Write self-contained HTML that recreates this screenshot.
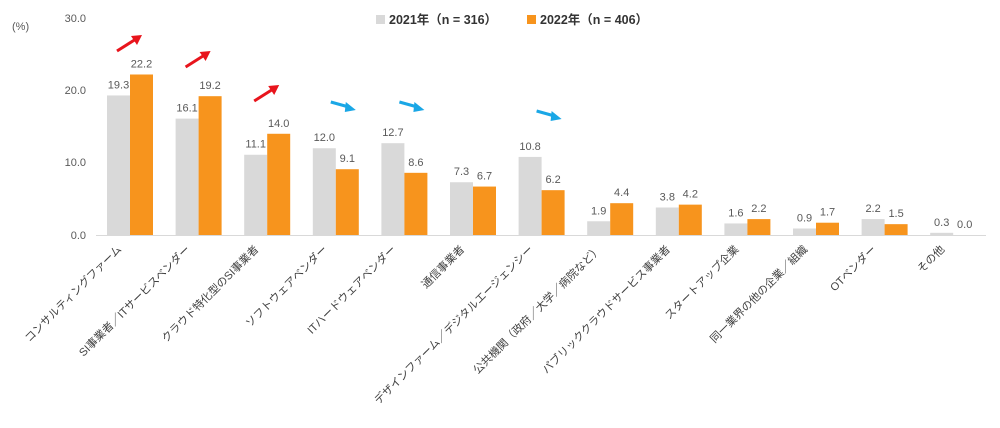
<!DOCTYPE html>
<html><head><meta charset="utf-8"><style>
body{margin:0;background:#fff}
svg text{font-family:"Liberation Sans","Noto Sans CJK JP",sans-serif}
</style></head><body>
<svg width="1000" height="423" viewBox="0 0 1000 423" xmlns="http://www.w3.org/2000/svg">
<g font-size="11" fill="#595959">
<text x="12" y="30">(%)</text>
<text x="86" y="22" text-anchor="end">30.0</text>
<text x="86" y="94" text-anchor="end">20.0</text>
<text x="86" y="166" text-anchor="end">10.0</text>
<text x="86" y="239" text-anchor="end">0.0</text>
</g>
<line x1="96" y1="235.5" x2="986" y2="235.5" stroke="#d9d9d9" stroke-width="1"/>
<rect x="376" y="15" width="9" height="9" fill="#d9d9d9"/>
<text x="389" y="24" font-size="12.5" font-weight="bold" fill="#333">2021年（n = 316）</text>
<rect x="527" y="15" width="9" height="9" fill="#f7941d"/>
<text x="540" y="24" font-size="12.5" font-weight="bold" fill="#333">2022年（n = 406）</text>
<g id="bars"></g>
</svg>
<script>
var d=[["コンサルティングファーム",19.3,22.2],["SI事業者／ITサービスベンダー",16.1,19.2],["クラウド特化型のSI事業者",11.1,14.0],["ソフトウェアベンダー",12.0,9.1],["ITハードウェアベンダー",12.7,8.6],["通信事業者",7.3,6.7],["デザインファーム／デジタルエージェンシー",10.8,6.2],["公共機関（政府／大学／病院など）",1.9,4.4],["パブリッククラウドサービス事業者",3.8,4.2],["スタートアップ企業",1.6,2.2],["同一業界の他の企業／組織",0.9,1.7],["OTベンダー",2.2,1.5],["その他",0.3,0.0]];
var s="";
function Y(v){return 235-v*7.23;}
d.forEach(function(r,i){
 var c=130+i*68.6;
 var y1=Y(r[1]),y2=Y(r[2]);
 s+='<rect x="'+(c-23)+'" y="'+y1+'" width="23" height="'+(235-y1)+'" fill="#d9d9d9"/>';
 s+='<rect x="'+c+'" y="'+y2+'" width="23" height="'+(235-y2)+'" fill="#f7941d"/>';
 s+='<text x="'+(c-11.5)+'" y="'+(y1-7)+'" font-size="11" fill="#595959" text-anchor="middle">'+r[1].toFixed(1)+'</text>';
 s+='<text x="'+(c+11.5)+'" y="'+(y2-7)+'" font-size="11" fill="#595959" text-anchor="middle">'+r[2].toFixed(1)+'</text>';
 s+='<text transform="translate('+(c-8)+',250) rotate(-45)" font-size="11" fill="#404040" text-anchor="end">'+r[0]+'</text>';
});
[[0,1],[1,1],[2,1],[3,0],[4,0],[6,0]].forEach(function(a,k){
 var c=130+a[0]*68.6;
 var yb=[51,67,101,102,102,111][k];
 if(a[1]){
  s+='<line x1="'+(c-13)+'" y1="'+yb+'" x2="'+(c+6)+'" y2="'+(yb-12)+'" stroke="#e8141c" stroke-width="3"/>';
  s+='<path d="M'+(c+12)+','+(yb-16)+' L'+(c+1)+','+(yb-15)+' L'+(c+7)+','+(yb-6)+'z" fill="#e8141c"/>';
 } else {
  s+='<line x1="'+(c-5)+'" y1="'+yb+'" x2="'+(c+13)+'" y2="'+(yb+5)+'" stroke="#1aa7e6" stroke-width="3"/>';
  s+='<path d="M'+(c+20)+','+(yb+8)+' L'+(c+10)+','+(yb+0)+' L'+(c+9)+','+(yb+10)+'z" fill="#1aa7e6"/>';
 }
});
document.getElementById("bars").outerHTML=s;
</script>
</body></html>
